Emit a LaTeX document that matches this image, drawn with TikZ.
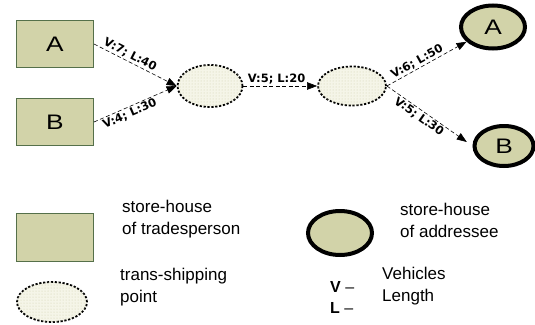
\documentclass[tikz,border=0pt]{standalone}
\usepackage{fontspec}
\setmainfont{Liberation Sans}
\newfontfamily\labelfont{DejaVu Sans}
\usetikzlibrary{shapes.geometric,arrows.meta,patterns}

\definecolor{khaki}{HTML}{D2D3A9}
\definecolor{boxedge}{HTML}{55704A}
\definecolor{dotbg}{HTML}{F5F5E8}
\definecolor{dotfg}{HTML}{CFD0AE}

% wide capital letter used inside the stores
\newcommand{\storeletter}[1]{\scalebox{1.25}[1]{#1}}

\begin{document}
\begin{tikzpicture}[x=1pt,y=-1pt,
  trader/.style={rectangle, draw=boxedge, line width=1pt, fill=khaki,
    minimum width=77pt, minimum height=47pt, inner sep=0pt,
    font=\fontsize{21}{24}\selectfont},
  hub/.style={ellipse, draw=black, line width=1.8pt, dash pattern=on 2.2pt off 1.7pt,
    fill=dotbg, postaction={pattern=dots, pattern color=dotfg},
    inner sep=0pt},
  client/.style={ellipse, draw=black, line width=4pt, fill=khaki,
    inner sep=0pt, font=\fontsize{21}{24}\selectfont},
  route/.style={draw=black, line width=0.6pt, dash pattern=on 4pt off 2.5pt,
    -{Triangle[length=10pt,width=7.5pt]}},
  routelabel/.style={sloped, inner sep=1.5pt,
    font=\labelfont\bfseries\fontsize{11.5}{12}\selectfont},
  legendtext/.style={anchor=west, align=left, inner sep=0pt,
    font=\fontsize{17}{22}\selectfont},
]
\useasboundingbox (0,0) rectangle (535,324);

% network
\node[trader] (srcA) at (55,44) {\storeletter{A}};
\node[trader] (srcB) at (55,122) {\storeletter{B}};
\node[hub, minimum width=65pt, minimum height=42pt] (hub1) at (210,86) {};
\node[hub, minimum width=68pt, minimum height=39pt] (hub2) at (352,86) {};
\node[client, minimum width=64pt, minimum height=43pt] (dstA) at (493,27) {\storeletter{A}};
\node[client, minimum width=59pt, minimum height=40pt] (dstB) at (504,146) {\storeletter{B}};

\draw[route] (srcA.east) -- node[routelabel, above, pos=0.4] {V:7; L:40} (hub1.west);
\draw[route] (srcB.east) -- node[routelabel, below, pos=0.4] {V:4; L:30} (hub1.west);
\draw[route] (hub1.east) -- node[routelabel, above, pos=0.45] {V:5; L:20} (hub2.west);
\draw[route] (hub2.east) -- node[routelabel, above, pos=0.42] {V:6; L:50} (dstA);
\draw[route, shorten >=7pt] (hub2.east) -- node[routelabel, below, pos=0.42] {V:5; L:30} (dstB.west);

% legend
\node[trader, minimum height=48pt] (keyTrader) at (55,237) {};
\node[legendtext] (keyTraderText) at (122,219) {store-house\\of tradesperson};
\node[hub, minimum width=70pt, minimum height=40pt] (keyHub) at (52,302) {};
\node[legendtext] (keyHubText) at (120,287) {trans-shipping\\point};
\node[client, minimum width=64pt, minimum height=44pt] (keyClient) at (340,233) {};
\node[legendtext] (keyClientText) at (400,220) {store-house\\of addressee};
\node[legendtext] (keyUnits) at (382,286) {Vehicles\\Length};
\node[legendtext, font=\fontsize{16}{21}\selectfont] (keyVL) at (330,297) {\textbf{V} –\\\textbf{L} –};
\end{tikzpicture}
\end{document}
